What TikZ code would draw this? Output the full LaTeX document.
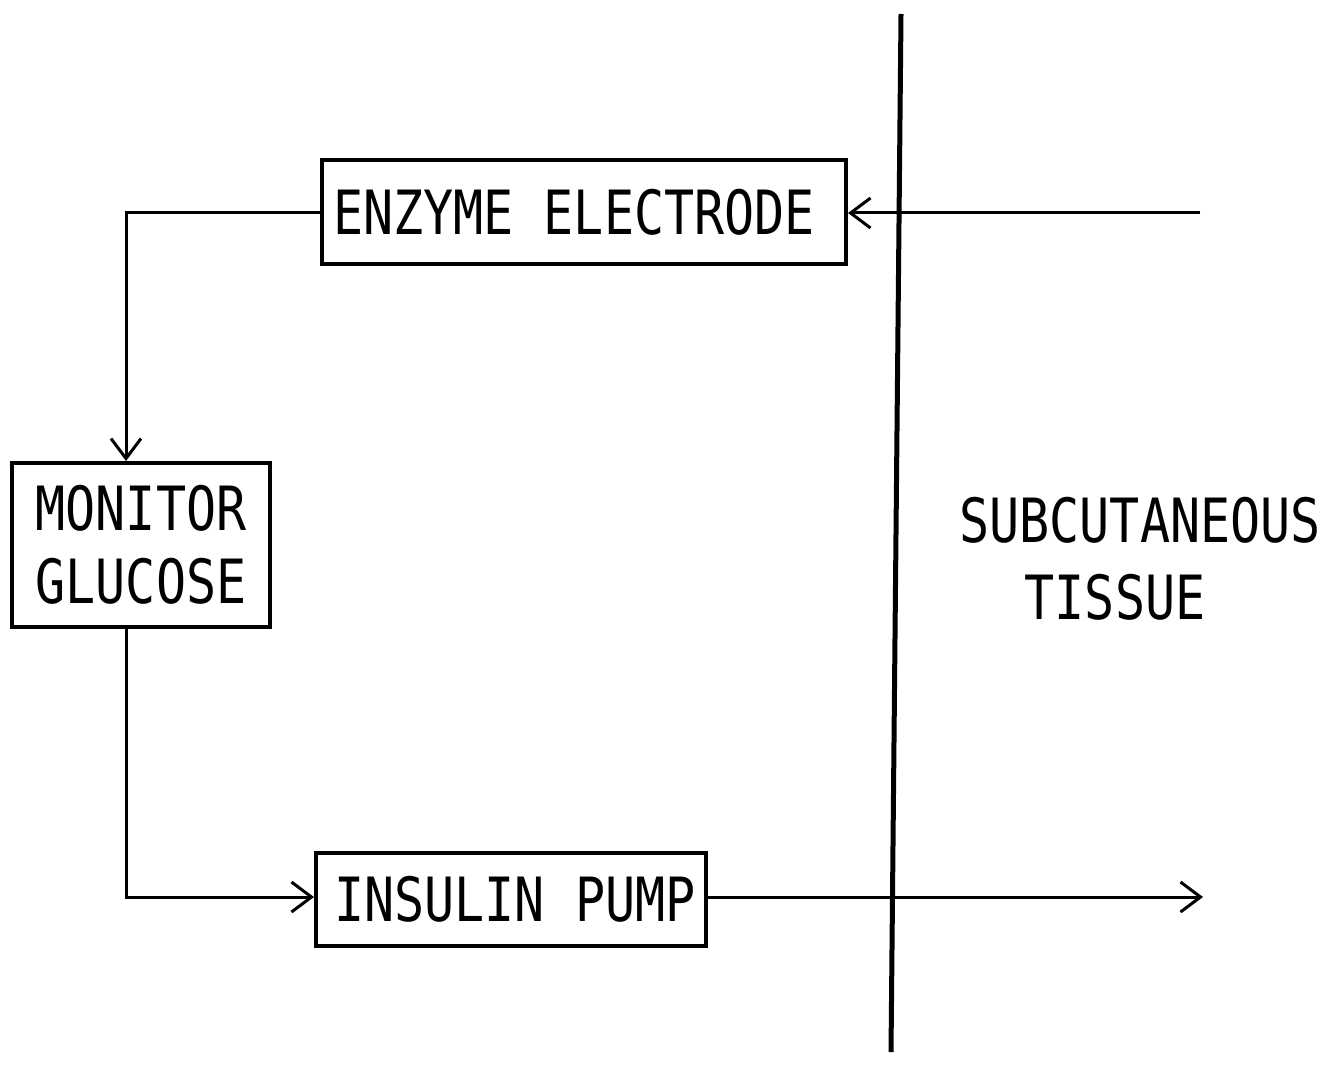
\documentclass[tikz,border=0pt]{standalone}
\usepackage{fontspec}
\newfontfamily\lblfont[FakeStretch=0.82]{DejaVu Sans Mono}
\usetikzlibrary{arrows.meta}
\begin{document}
\begin{tikzpicture}[x=0.5pt,y=-0.5pt,
  blockbox/.style={draw,line width=2pt,inner sep=0pt,align=center,
    font=\lblfont\fontsize{30.5pt}{36.5pt}\selectfont},
  lbltext/.style={inner sep=0pt,align=center,
    font=\lblfont\fontsize{30.5pt}{36.5pt}\selectfont},
  conn/.style={line width=1.5pt},
  tipopen/.style={-{Straight Barb[length=10pt,width=15pt,line width=1.5pt]}}]
\useasboundingbox (0,0) rectangle (1331,1064);
% blocks
\node[blockbox,minimum width=262pt,minimum height=52pt] (enz) at (584,212) {ENZYME ELECTRODE\hspace{10pt}};
\node[blockbox,minimum width=129pt,minimum height=82pt] (mon) at (141,545) {MONITOR\\GLUCOSE};
\node[blockbox,minimum width=195pt,minimum height=46.5pt] (pump) at (511,899) {\hspace{4pt}INSULIN PUMP};
\node[lbltext] (sub) at (1140,520) {SUBCUTANEOUS};
\node[lbltext] (tis) at (1115,597) {TISSUE};
% skin boundary
\coordinate (skintop) at (901,14);
\coordinate (skinbot) at (891,1052);
\draw[line width=2.5pt] (skintop) -- (skinbot);
% connectors
\coordinate (inS) at (1200,213);
\coordinate (k1) at (126,213);
\coordinate (k2) at (126,897);
\coordinate (outE) at (1203,897);
\draw[conn,tipopen] (inS) -- (enz.east |- inS);
\draw[conn,tipopen] (enz.west |- k1) -- (k1) -- (k1 |- mon.north);
\draw[conn,tipopen] (k2 |- mon.south) -- (k2) -- (pump.west |- k2);
\draw[conn,tipopen] (pump.east |- outE) -- (outE);
\end{tikzpicture}
\end{document}
